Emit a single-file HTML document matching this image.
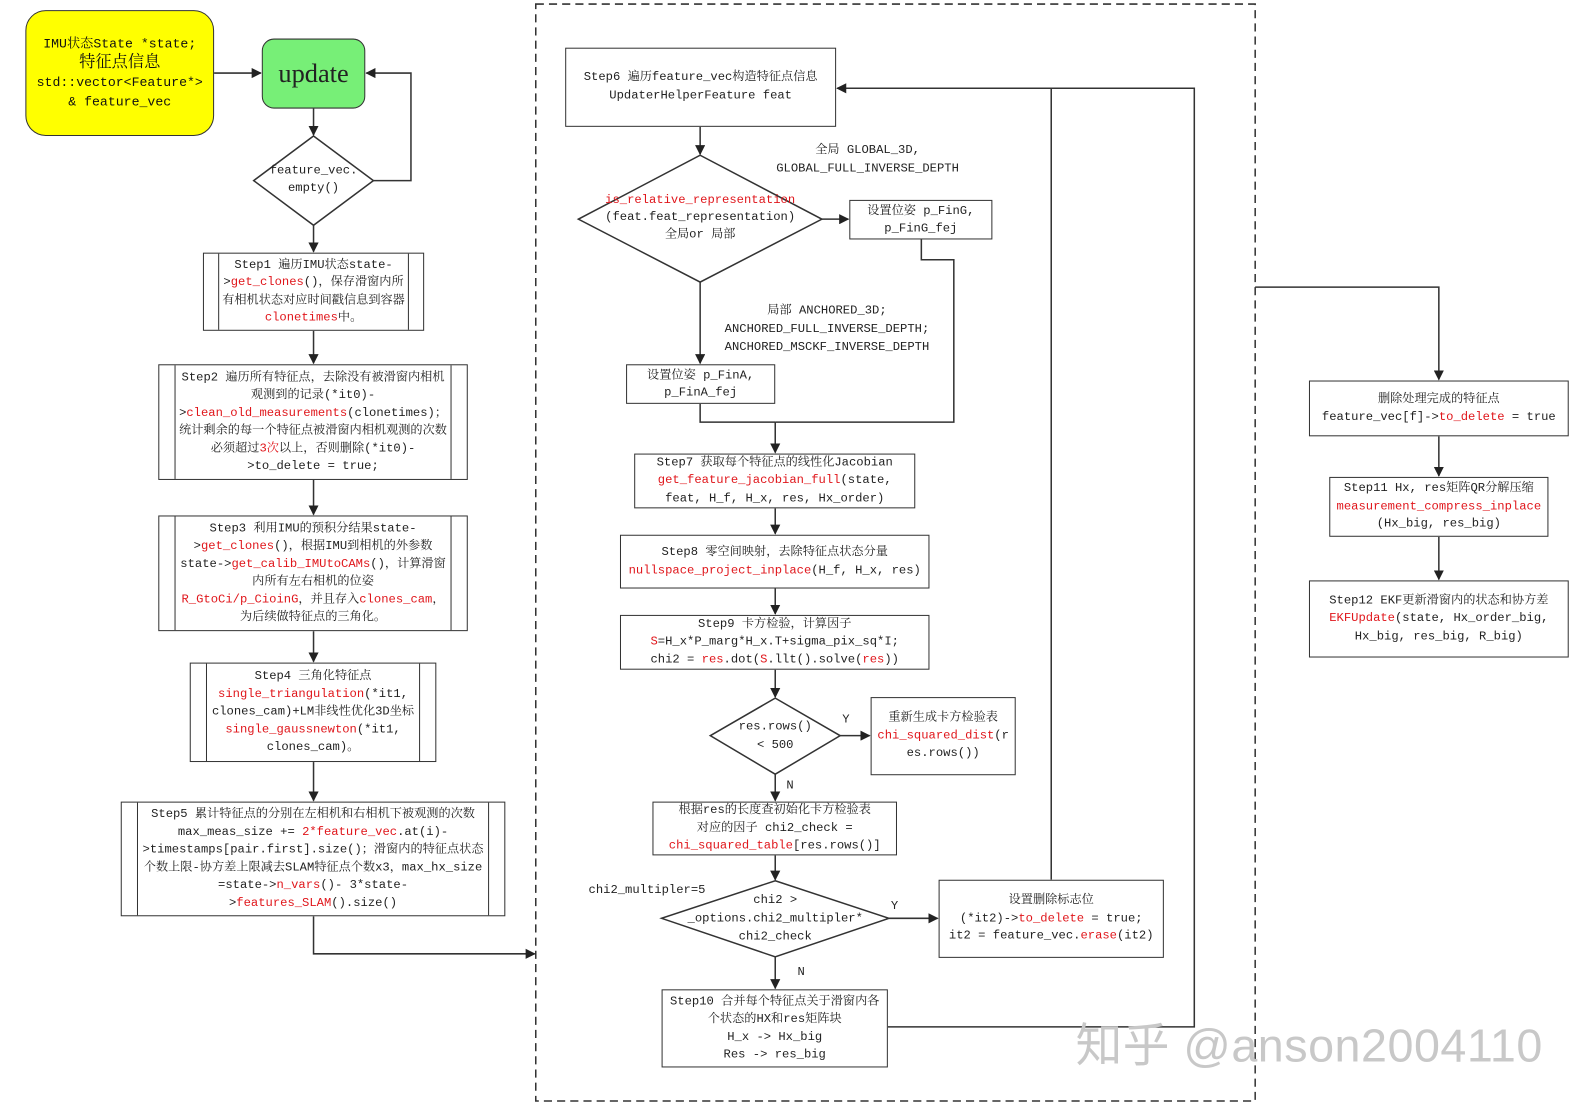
<!DOCTYPE html>
<html><head><meta charset="utf-8">
<style>
html,body{margin:0;padding:0;background:#fff;width:1591px;height:1112px;overflow:hidden}
#w{position:absolute;left:0;top:0;width:1568px;height:1096px;transform:scale(1.0147);transform-origin:0 0}
.b{position:absolute;box-sizing:border-box;border:1.5px solid #333;background:#fff;display:flex;align-items:center;justify-content:center;text-align:center;font-family:"Liberation Mono","Noto Serif CJK SC",monospace;font-size:12px;line-height:17.5px;color:#222;padding:0 4px}
.b > div{width:100%}
.s{position:absolute;font-family:"Liberation Mono","Noto Serif CJK SC",monospace;font-size:12px;line-height:18px;color:#222;text-align:center;white-space:nowrap}
.r{color:#e0161b}
.v{position:absolute;top:0;bottom:0;border-left:1.5px solid #333}
svg{position:absolute;left:0;top:0}
</style></head><body><div id="w">
<svg width="1568" height="1096" viewBox="0 0 1568 1096">
<defs><marker id="a" markerWidth="10" markerHeight="10" refX="9" refY="5" orient="auto" markerUnits="userSpaceOnUse"><path d="M0,0 L10,5 L0,10 z" fill="#222"/></marker></defs>
<g stroke="#333" stroke-width="1.5" fill="none">
<rect x="528" y="4" width="709" height="1081" stroke-dasharray="8,5"/>
<line x1="211" y1="72" x2="257" y2="72" marker-end="url(#a)"/>
<line x1="309" y1="107" x2="309" y2="133" marker-end="url(#a)"/>
<polyline points="368,178 405,178 405,72 361,72" marker-end="url(#a)"/>
<polygon points="309,134 368,178 309,222 250,178" fill="#fff"/>
<line x1="309" y1="222" x2="309" y2="248" marker-end="url(#a)"/>
<line x1="309" y1="326" x2="309" y2="358" marker-end="url(#a)"/>
<line x1="309" y1="473" x2="309" y2="507" marker-end="url(#a)"/>
<line x1="309" y1="622" x2="309" y2="652" marker-end="url(#a)"/>
<line x1="309" y1="751" x2="309" y2="789" marker-end="url(#a)"/>
<polyline points="309,903 309,940 527,940" marker-end="url(#a)"/>
<line x1="690" y1="125" x2="690" y2="152" marker-end="url(#a)"/>
<polygon points="690,153 810,216 690,278 570,216" fill="#fff"/>
<line x1="810" y1="216" x2="836" y2="216" marker-end="url(#a)"/>
<line x1="690" y1="278" x2="690" y2="358" marker-end="url(#a)"/>
<polyline points="908,236 908,256 940,256 940,416 764,416"/>
<polyline points="690,398 690,416 764,416"/>
<line x1="764" y1="416" x2="764" y2="446" marker-end="url(#a)"/>
<line x1="764" y1="501" x2="764" y2="526" marker-end="url(#a)"/>
<line x1="764" y1="580" x2="764" y2="605" marker-end="url(#a)"/>
<line x1="764" y1="660" x2="764" y2="687" marker-end="url(#a)"/>
<polygon points="764,688 828,725 764,763 700,725" fill="#fff"/>
<line x1="828" y1="725" x2="857" y2="725" marker-end="url(#a)"/>
<line x1="764" y1="763" x2="764" y2="789" marker-end="url(#a)"/>
<line x1="764" y1="843" x2="764" y2="867" marker-end="url(#a)"/>
<polygon points="764,868 876,905 764,943 652,905" fill="#fff"/>
<line x1="876" y1="905" x2="924" y2="905" marker-end="url(#a)"/>
<line x1="764" y1="943" x2="764" y2="974" marker-end="url(#a)"/>
<polyline points="875,1012 1177,1012 1177,87 825,87" marker-end="url(#a)"/>
<line x1="1036" y1="87" x2="1036" y2="867"/>
<polyline points="1237,283 1418,283 1418,374" marker-end="url(#a)"/>
<line x1="1418" y1="430" x2="1418" y2="469" marker-end="url(#a)"/>
<line x1="1418" y1="529" x2="1418" y2="571" marker-end="url(#a)"/>
</g>
</svg>

<div class="b" style="left:25px;top:10px;width:186px;height:124px;background:#ffff00;border-radius:20px;font-size:13px;line-height:19px;color:#111"><div>IMU状态State *state;<br><span style="font-size:16px">特征点信息</span><br>std::vector&lt;Feature*&gt;<br>&amp; feature_vec</div></div>
<div class="b" style="left:258px;top:38px;width:102px;height:69px;background:#77ef77;border-radius:12px;font-size:26px;font-family:'Liberation Serif',serif"><div>update</div></div>
<div class="s" style="left:250px;top:160px;width:118px;line-height:17px">feature_vec.<br>empty()</div>

<div class="b" style="left:200px;top:249px;width:218px;height:77px;padding:0 16px"><span class="v" style="left:14px"></span><span class="v" style="right:14px"></span><div>Step1 遍历IMU状态state-&gt;<span class="r">get_clones</span>()，保存滑窗内所有相机状态对应时间戳信息到容器<span class="r">clonetimes</span>中。</div></div>
<div class="b" style="left:156px;top:359px;width:305px;height:114px;padding:0 18px"><span class="v" style="left:15px"></span><span class="v" style="right:15px"></span><div>Step2 遍历所有特征点，去除没有被滑窗内相机观测到的记录(*it0)-&gt;<span class="r">clean_old_measurements</span>(clonetimes)；统计剩余的每一个特征点被滑窗内相机观测的次数必须超过<span class="r">3次</span>以上，否则删除(*it0)-&gt;to_delete = true;</div></div>
<div class="b" style="left:156px;top:508px;width:305px;height:114px;padding:0 18px"><span class="v" style="left:15px"></span><span class="v" style="right:15px"></span><div>Step3 利用IMU的预积分结果state-&gt;<span class="r">get_clones</span>()，根据IMU到相机的外参数state-&gt;<span class="r">get_calib_IMUtoCAMs</span>()，计算滑窗内所有左右相机的位姿<br><span class="r">R_GtoCi/p_CioinG</span>，并且存入<span class="r">clones_cam</span>，为后续做特征点的三角化。</div></div>
<div class="b" style="left:187px;top:653px;width:243px;height:98px;padding:0 18px"><span class="v" style="left:15px"></span><span class="v" style="right:15px"></span><div>Step4 三角化特征点<br><span class="r">single_triangulation</span>(*it1, clones_cam)+LM非线性优化3D坐标<span class="r">single_gaussnewton</span>(*it1, clones_cam)。</div></div>
<div class="b" style="left:119px;top:790px;width:379px;height:113px;padding:0 18px"><span class="v" style="left:15px"></span><span class="v" style="right:15px"></span><div>Step5 累计特征点的分别在左相机和右相机下被观测的次数max_meas_size += <span class="r">2*feature_vec</span>.at(i)-&gt;timestamps[pair.first].size()；滑窗内的特征点状态个数上限-协方差上限减去SLAM特征点个数x3，max_hx_size =state-&gt;<span class="r">n_vars</span>()- 3*state-&gt;<span class="r">features_SLAM</span>().size()</div></div>

<div class="b" style="left:557px;top:47px;width:267px;height:78px;align-items:flex-start;padding-top:20px"><div>Step6 遍历feature_vec构造特征点信息<br>UpdaterHelperFeature feat</div></div>
<div class="s" style="left:570px;top:189px;width:240px;line-height:17px"><span class="r">is_relative_representation</span><br>(feat.feat_representation)<br>全局or 局部</div>
<div class="s" style="left:760px;top:139px;width:190px">全局 GLOBAL_3D,<br>GLOBAL_FULL_INVERSE_DEPTH</div>
<div class="b" style="left:837px;top:197px;width:141px;height:39px;line-height:17px"><div>设置位姿 p_FinG,<br>p_FinG_fej</div></div>
<div class="s" style="left:700px;top:297px;width:230px">局部 ANCHORED_3D;<br>ANCHORED_FULL_INVERSE_DEPTH;<br>ANCHORED_MSCKF_INVERSE_DEPTH</div>
<div class="b" style="left:617px;top:359px;width:147px;height:39px;line-height:17px"><div>设置位姿 p_FinA,<br>p_FinA_fej</div></div>
<div class="b" style="left:625px;top:447px;width:277px;height:54px"><div>Step7 获取每个特征点的线性化Jacobian<br><span class="r">get_feature_jacobian_full</span>(state,<br>feat, H_f, H_x, res, Hx_order)</div></div>
<div class="b" style="left:611px;top:527px;width:305px;height:53px"><div>Step8 零空间映射，去除特征点状态分量<br><span class="r">nullspace_project_inplace</span>(H_f, H_x, res)</div></div>
<div class="b" style="left:611px;top:606px;width:305px;height:54px"><div>Step9 卡方检验，计算因子<br><span class="r">S</span>=H_x*P_marg*H_x.T+sigma_pix_sq*I;<br>chi2 = <span class="r">res</span>.dot(<span class="r">S</span>.llt().solve(<span class="r">res</span>))</div></div>
<div class="s" style="left:700px;top:707px;width:128px">res.rows()<br>&lt; 500</div>
<div class="s" style="left:830px;top:700px">Y</div>
<div class="b" style="left:858px;top:687px;width:143px;height:77px"><div>重新生成卡方检验表<br><span class="r">chi_squared_dist</span>(r<br>es.rows())</div></div>
<div class="s" style="left:775px;top:765px">N</div>
<div class="b" style="left:643px;top:790px;width:241px;height:53px"><div>根据res的长度查初始化卡方检验表<br>对应的因子 chi2_check =<br><span class="r">chi_squared_table</span>[res.rows()]</div></div>
<div class="s" style="left:580px;top:868px">chi2_multipler=5</div>
<div class="s" style="left:652px;top:878px;width:224px">chi2 &gt;<br>_options.chi2_multipler*<br>chi2_check</div>
<div class="s" style="left:878px;top:884px">Y</div>
<div class="b" style="left:925px;top:867px;width:222px;height:77px"><div>设置删除标志位<br>(*it2)-&gt;<span class="r">to_delete</span> = true;<br>it2 = feature_vec.<span class="r">erase</span>(it2)</div></div>
<div class="s" style="left:786px;top:949px">N</div>
<div class="b" style="left:652px;top:975px;width:223px;height:77px"><div>Step10 合并每个特征点关于滑窗内各个状态的HX和res矩阵块<br>H_x -&gt; Hx_big<br>Res -&gt; res_big</div></div>

<div class="b" style="left:1290px;top:375px;width:256px;height:55px"><div>删除处理完成的特征点<br>feature_vec[f]-&gt;<span class="r">to_delete</span> = true</div></div>
<div class="b" style="left:1310px;top:470px;width:216px;height:59px"><div>Step11 Hx, res矩阵QR分解压缩<br><span class="r">measurement_compress_inplace</span><br>(Hx_big, res_big)</div></div>
<div class="b" style="left:1290px;top:572px;width:256px;height:76px"><div>Step12 EKF更新滑窗内的状态和协方差<br><span class="r">EKFUpdate</span>(state, Hx_order_big,<br>Hx_big, res_big, R_big)</div></div>

<div class="s" style="left:1060px;top:1002px;font-size:46px;line-height:56px;letter-spacing:0.5px;color:#c8c8c8;font-family:'Liberation Sans','Noto Sans CJK SC',sans-serif">知乎 @anson2004110</div>
</div></body></html>
